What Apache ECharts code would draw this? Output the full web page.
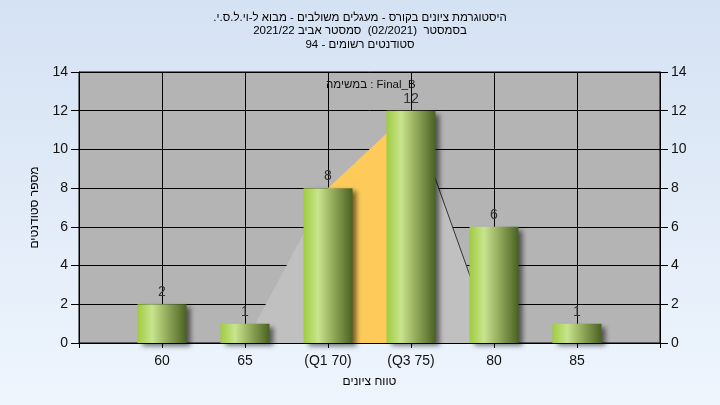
<!DOCTYPE html>
<html>
<head>
<meta charset="utf-8">
<script src="https://cdn.jsdelivr.net/npm/echarts@6/dist/echarts.min.js"></script>
<style>
html,body{margin:0;padding:0;}
#c{width:720px;height:405px;}
</style>
</head>
<body>
<div id="c"></div>
<script>
// ---- data ----
var titleLines = [
  'היסטוגרמת ציונים בקורס - מעגלים משולבים - מבוא ל-וי.ל.ס.י.\u200F',
  'בסמסטר  (02/2021)  סמסטר אביב 2021/22',
  'סטודנטים רשומים - 94'
];
var taskLabel = 'במשימה : Final_B';
var xAxisTitle = 'טווח ציונים';
var yAxisTitle = 'מספר סטודנטים';
var gradeValues = [60, 65, 70, 75, 80, 85];
var gradeLabels = ['60', '65', '(Q1 70)', '(Q3 75)', '80', '85'];
var studentCounts = [2, 1, 8, 12, 6, 1];
// distribution outline (grade, count)
var outlineX = [65, 70, 75, 80];
var outlineY = [0, 8, 12, 0];
// inter-quartile segment (Q1..Q3)
var iqrX = [70, 75];
var iqrY = [8, 12];

var FONT = '"Liberation Sans", "DejaVu Sans", Arial, sans-serif';

var barData = gradeValues.map(function (g, i) { return [g, studentCounts[i]]; });
var outlineData = outlineX.map(function (g, i) { return [g, outlineY[i]]; });
var iqrData = iqrX.map(function (g, i) { return [g, iqrY[i]]; });
var tailData = outlineData.slice(2);

var labelMap = {};
gradeValues.forEach(function (g, i) { labelMap[g] = gradeLabels[i]; });

var chart = echarts.init(document.getElementById('c'));
var yAxisCommon = {
  type: 'value', min: 0, max: 14, interval: 2,
  axisLine: { show: true, lineStyle: { color: '#000', width: 1 } },
  axisTick: { show: true, length: 8, lineStyle: { color: '#000' } },
  splitLine: { show: true, lineStyle: { color: '#000', width: 1 } },
  axisLabel: { color: '#111', fontFamily: FONT, fontSize: 14, margin: 11 }
};
chart.setOption({
  animation: false,
  backgroundColor: new echarts.graphic.LinearGradient(0, 0, 0, 1, [
    { offset: 0, color: '#d5e2f3' },
    { offset: 1, color: '#eef5fd' }
  ]),
  title: {
    text: titleLines.join('\n'),
    left: 'center', top: 6,
    textStyle: { fontFamily: FONT, fontSize: 11.5, fontWeight: 'normal', color: '#000', lineHeight: 13.5 }
  },
  grid: { left: 79, right: 60, top: 72, bottom: 62, show: true, backgroundColor: '#b4b4b4', borderColor: '#000', borderWidth: 1 },
  xAxis: {
    type: 'value', min: 55, max: 90, interval: 5,
    name: xAxisTitle, nameLocation: 'middle', nameGap: 33,
    nameTextStyle: { fontFamily: FONT, fontSize: 12, color: '#000' },
    axisLine: { show: true, onZero: false, lineStyle: { color: '#000' } },
    axisTick: { show: true, length: 5, lineStyle: { color: '#000' } },
    splitLine: { show: true, lineStyle: { color: '#000', width: 1 } },
    axisLabel: {
      color: '#111', fontFamily: FONT, fontSize: 14, margin: 11,
      formatter: function (v) { return labelMap[v] || ''; }
    }
  },
  yAxis: [
    Object.assign({}, yAxisCommon, {
      position: 'left',
      name: yAxisTitle, nameLocation: 'middle', nameGap: 38, nameRotate: 90,
      nameTextStyle: { fontFamily: FONT, fontSize: 12, color: '#000' }
    }),
    Object.assign({}, yAxisCommon, { position: 'right', splitLine: { show: false } })
  ],
  graphic: [{
    type: 'text', left: 326, top: 79, z: 100,
    style: { text: taskLabel, font: '11.5px ' + FONT, fill: '#111' }
  }],
  series: [
    {
      type: 'line', data: outlineData, symbol: 'none', z: 2,
      lineStyle: { width: 0 },
      areaStyle: { color: '#c0c0c0', opacity: 1 }
    },
    {
      type: 'line', data: iqrData, symbol: 'none', z: 3,
      lineStyle: { width: 0 },
      areaStyle: { color: '#fecb5b', opacity: 1 }
    },
    {
      type: 'line', data: tailData, symbol: 'none', z: 4,
      lineStyle: { width: 1, color: '#333' }
    },
    {
      type: 'bar', data: barData, barWidth: 49, z: 5,
      itemStyle: {
        color: new echarts.graphic.LinearGradient(0, 0, 1, 0, [
          { offset: 0, color: '#a0cc40' },
          { offset: 0.3, color: '#c8e48e' },
          { offset: 0.6, color: '#93ab5c' },
          { offset: 1, color: '#4a6222' }
        ]),
        shadowColor: 'rgba(0,0,0,0.55)', shadowBlur: 5, shadowOffsetX: 4, shadowOffsetY: 3
      },
      label: { show: true, position: 'top', distance: 5, color: '#333', fontFamily: FONT, fontSize: 14 }
    }
  ]
});
</script>
</body>
</html>
